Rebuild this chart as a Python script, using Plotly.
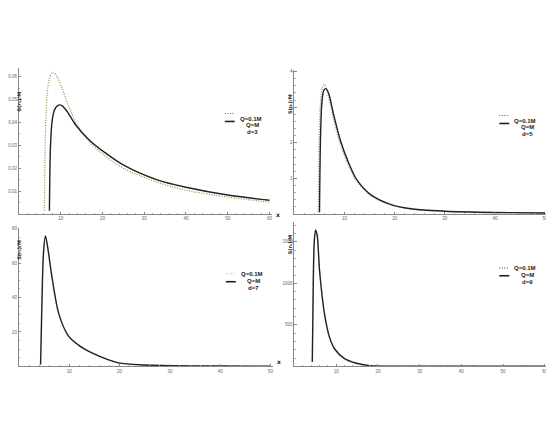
import plotly.graph_objects as go

# d=3 panel (top left)
r3_q01 = [6.1, 6.35, 6.75, 7.3, 8.1, 9.1, 10.3, 11.9, 13.9, 16.7, 20.6, 25.4, 33.3, 40, 50, 60]
s3_q01 = [0.0014, 0.0362, 0.0522, 0.0594, 0.0620, 0.0601, 0.0551, 0.0471, 0.0391, 0.0319, 0.0254, 0.0196, 0.0138, 0.0104, 0.0074, 0.0052]
r3_q1 = [7.3, 7.54, 7.94, 8.57, 9.37, 10.2, 11.5, 13.5, 16.7, 20.6, 25.4, 33.3, 40, 50, 60]
s3_q1 = [0.0014, 0.029, 0.0406, 0.0457, 0.0475, 0.0475, 0.0449, 0.0391, 0.0326, 0.0268, 0.021, 0.0148, 0.0117, 0.0083, 0.0060]

# d=5 panel (top right)
r5_q01 = [4.75, 4.95, 5.2, 5.55, 5.98, 6.5, 7.5, 8.8, 10.5, 12.2, 15, 19, 23.6, 30, 40, 50]
s5_q01 = [0.05, 2.2, 3.15, 3.55, 3.64, 3.45, 2.85, 2.12, 1.45, 0.97, 0.54, 0.27, 0.13, 0.075, 0.04, 0.025]
r5_q1 = [5.0, 5.2, 5.46, 5.85, 6.3, 6.84, 7.83, 9.14, 10.8, 12.4, 15.05, 19, 23.6, 30, 40, 50]
s5_q1 = [0.05, 2.17, 3.1, 3.47, 3.52, 3.38, 2.78, 2.08, 1.44, 0.97, 0.56, 0.28, 0.14, 0.08, 0.045, 0.03]

# d=7 panel (bottom left)
r7_q01 = [4.25, 4.55, 4.82, 5.22, 5.75, 6.4, 7.85, 9.85, 12.2, 14.5, 19.8, 25, 30, 40, 50]
s7_q01 = [1, 41, 66, 76.2, 68, 54, 30.6, 17.2, 11.4, 7.7, 2, 0.8, 0.4, 0.2, 0.1]
r7_q1 = [4.3, 4.6, 4.87, 5.27, 5.8, 6.46, 7.9, 9.9, 12.2, 14.5, 19.8, 25, 30, 40, 50]
s7_q1 = [1, 40.6, 65.6, 75.8, 67.6, 54, 30.8, 17.4, 11.6, 7.8, 2, 0.8, 0.4, 0.2, 0.1]

# d=9 panel (bottom right)
r9_q01 = [4.25, 4.49, 4.73, 5.04, 5.44, 6.0, 7.18, 8.38, 9.6, 12, 14.6, 18.1, 25, 40, 60]
s9_q01 = [52, 1040, 1520, 1650, 1575, 1150, 630, 350, 210, 92, 40, 8, 2, 0.8, 0.5]
r9_q1 = [4.28, 4.52, 4.76, 5.07, 5.47, 6.02, 7.2, 8.4, 9.6, 12, 14.6, 18.1, 25, 40, 60]
s9_q1 = [52, 1031, 1511, 1640, 1571, 1151, 632, 352, 212, 92, 40, 8, 2, 0.8, 0.5]

labels_q = ["Q=0.1M", "Q=M"]
labels_d = ["d=3", "d=5", "d=7", "d=9"]

W, H = 554, 428

def px(x):
    return x / W

def py(y):
    return (H - y) / H

# pixel boxes: left, right, bottom(axis), top ; axis ranges
panels = [
    dict(box=(10, 264, 205, 58), xr=[0, 60.5], yr=[0, 0.0639], xt=[10, 20, 30, 40, 50, 60],
         yt=[0.01, 0.02, 0.03, 0.04, 0.05, 0.06], ytl=["0.01", "0.02", "0.03", "0.04", "0.05", "0.06"],
         dots="#a8904a", leg="#4a6a8a"),
    dict(box=(287, 540, 205, 60), xr=[0, 50.2], yr=[0, 4.05], xt=[10, 20, 30, 40, 50],
         yt=[1, 2, 3, 4], ytl=["1", "2", "3", "4"], dots="#8a96aa", leg="#5a6a80"),
    dict(box=(10, 265, 358, 219), xr=[0, 50.4], yr=[0, 80.5], xt=[10, 20, 30, 40, 50],
         yt=[20, 40, 60, 80], ytl=["20", "40", "60", "80"], dots="#c8b890", leg="#b0b0b0"),
    dict(box=(287, 540, 358, 213), xr=[0, 60.3], yr=[0, 1739], xt=[10, 20, 30, 40, 50, 60],
         yt=[500, 1000, 1500], ytl=["500", "1000", "1500"], dots="#b8a070", leg="#4a6a8a"),
]

series = [(r3_q01, s3_q01, r3_q1, s3_q1), (r5_q01, s5_q01, r5_q1, s5_q1),
          (r7_q01, s7_q01, r7_q1, s7_q1), (r9_q01, s9_q01, r9_q1, s9_q1)]

fig = go.Figure()
layout = {}
shapes = []
annos = []
tickfont = dict(family="Liberation Sans", size=4.5, color="#666")

for i, (p, (ra, sa, rb, sb)) in enumerate(zip(panels, series)):
    n = "" if i == 0 else str(i + 1)
    xa, ya = "x" + n, "y" + n
    fig.add_trace(go.Scatter(x=ra, y=sa, mode="lines", xaxis=xa, yaxis=ya,
                             line=dict(color=p["dots"], width=1.3, dash="1px,1.5px", shape="spline", smoothing=0.8),
                             showlegend=False))
    fig.add_trace(go.Scatter(x=rb, y=sb, mode="lines", xaxis=xa, yaxis=ya,
                             line=dict(color="#222", width=1.4, shape="spline", smoothing=0.8),
                             showlegend=False))
    l, r, b, t = p["box"]
    layout["xaxis" + n] = dict(domain=[px(l), px(r)], range=p["xr"], anchor=ya,
                               showgrid=False, zeroline=False, showline=True, linecolor="#888", linewidth=1,
                               ticks="inside", ticklen=2.5, tickcolor="#888", tickvals=p["xt"],
                               tickfont=tickfont,
                               minor=dict(ticks="inside", ticklen=1.2, dtick=2, tickcolor="#aaa"))
    layout["yaxis" + n] = dict(domain=[py(b), py(t)], range=p["yr"], anchor=xa,
                               showgrid=False, zeroline=False, showline=True, linecolor="#888", linewidth=1,
                               ticks="inside", ticklen=2.5, tickcolor="#888", tickvals=p["yt"],
                               ticktext=p["ytl"], tickfont=tickfont,
                               minor=dict(ticks="inside", ticklen=1.2, nticks=5, tickcolor="#aaa"))
    # axis labels
    annos.append(dict(x=px(r + 6), y=py(b), xref="paper", yref="paper", text="<b>x</b>",
                      xanchor="center", borderpad=0, showarrow=False,
                      font=dict(family="DejaVu Sans", size=6, color="#222")))
    annos.append(dict(x=px(l - 5), y=py(t + 22), xref="paper", yref="paper",
                      text="<b>S(rₕ)/M</b>", textangle=-90, showarrow=False,
                      font=dict(family="DejaVu Sans", size=5, color="#222")))
    # legend block
    lx = r - 47
    ly = t + 46
    shapes.append(dict(type="line", xref="paper", yref="paper", x0=px(lx), x1=px(lx + 10),
                       y0=py(ly), y1=py(ly), line=dict(color=p["leg"], width=1.2, dash="1px,1.5px")))
    shapes.append(dict(type="line", xref="paper", yref="paper", x0=px(lx), x1=px(lx + 10),
                       y0=py(ly + 8), y1=py(ly + 8), line=dict(color="#222", width=1.6)))
    lfont = dict(family="Liberation Sans", size=6, color="#222")
    annos.append(dict(x=px(lx + 13), y=py(ly), xref="paper", yref="paper", text="<b>" + labels_q[0] + "</b>",
                      xanchor="left", showarrow=False, font=lfont))
    annos.append(dict(x=px(lx + 28), y=py(ly + 7), xref="paper", yref="paper", text="<b>" + labels_q[1] + "</b>",
                      xanchor="center", showarrow=False, font=lfont))
    annos.append(dict(x=px(lx + 28), y=py(ly + 14), xref="paper", yref="paper", text="<b>" + labels_d[i] + "</b>",
                      xanchor="center", showarrow=False, font=lfont))

fig.update_layout(width=W, height=H, margin=dict(l=0, r=0, t=0, b=0),
                  paper_bgcolor="white", plot_bgcolor="white",
                  shapes=shapes, annotations=annos, **layout)
fig.write_html("out.html")
